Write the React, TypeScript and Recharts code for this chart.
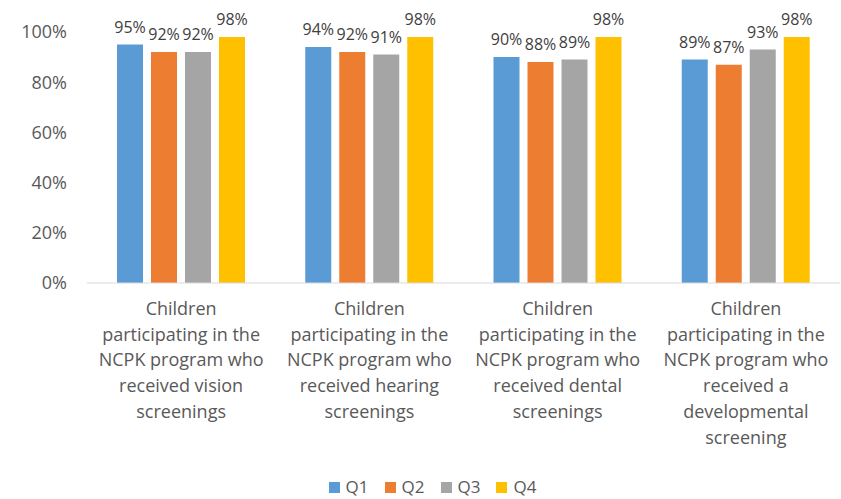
import { BarChart, Bar, XAxis, YAxis, Legend, LabelList } from 'recharts';

const categories = [
  'Children participating in the NCPK program who received vision screenings',
  'Children participating in the NCPK program who received hearing screenings',
  'Children participating in the NCPK program who received dental screenings',
  'Children participating in the NCPK program who received a developmental screening',
];
const q1 = [95, 94, 90, 89];
const q2 = [92, 92, 88, 87];
const q3 = [92, 91, 89, 93];
const q4 = [98, 98, 98, 98];
const yTicks = [0, 20, 40, 60, 80, 100];

const SERIES = [
  { key: 'Q1', color: '#5B9BD5' },
  { key: 'Q2', color: '#ED7D31' },
  { key: 'Q3', color: '#A5A5A5' },
  { key: 'Q4', color: '#FFC000' },
];

const data = categories.map((name, i) => ({
  name,
  Q1: q1[i],
  Q2: q2[i],
  Q3: q3[i],
  Q4: q4[i],
}));

const FONT = '"Open Sans", "Liberation Sans", sans-serif';
const TEXT = '#595959';

function wrap(text: string, max: number) {
  const lines: string[] = [];
  let cur = '';
  for (const w of text.split(' ')) {
    const next = cur ? cur + ' ' + w : w;
    if (next.length > max && cur) {
      lines.push(cur);
      cur = w;
    } else {
      cur = next;
    }
  }
  if (cur) lines.push(cur);
  return lines;
}

function CategoryTick({ x, y, payload }: any) {
  const lines = wrap(payload.value, 20);
  return (
    <text x={x} y={y} textAnchor="middle" fill={TEXT} fontSize={18} fontFamily={FONT}>
      {lines.map((l, i) => (
        <tspan key={i} x={x} dy={i === 0 ? 24 : 25.7}>
          {l}
        </tspan>
      ))}
    </text>
  );
}

function LegendContent() {
  return (
    <div
      style={{
        display: 'flex',
        justifyContent: 'center',
        alignItems: 'center',
        height: 24,
        paddingLeft: 40,
        fontFamily: FONT,
        fontSize: 17,
        color: TEXT,
        lineHeight: '24px',
      }}
    >
      {SERIES.map((s) => (
        <div key={s.key} style={{ display: 'flex', alignItems: 'center', marginRight: 16 }}>
          <span style={{ width: 11, height: 11, background: s.color, marginRight: 6, display: 'inline-block' }} />
          <span>{s.key}</span>
        </div>
      ))}
    </div>
  );
}

export default function App() {
  return (
    <div style={{ position: 'absolute', left: 0, top: 0, background: '#fff' }}>
      <BarChart
        width={841}
        height={499}
        data={data}
        margin={{ top: 32, right: 1, left: 0, bottom: 0 }}
        barSize={26}
        barGap={8}
      >
        <YAxis
          domain={[0, 100]}
          ticks={yTicks}
          tickFormatter={(v: number) => `${v}%`}
          axisLine={false}
          tickLine={false}
          width={87}
          tickMargin={14}
          tick={{ fill: TEXT, fontSize: 18, fontFamily: FONT }}
        />
        <XAxis
          dataKey="name"
          interval={0}
          tickLine={false}
          axisLine={{ stroke: '#D9D9D9' }}
          tick={<CategoryTick />}
          height={192}
        />
        <Legend
          verticalAlign="bottom"
          height={24}
          content={<LegendContent />}
          wrapperStyle={{ left: 0, width: 841, bottom: 0 }}
        />
        {SERIES.map((s) => (
          <Bar key={s.key} dataKey={s.key} fill={s.color} isAnimationActive={false}>
            <LabelList
              dataKey={s.key}
              position="top"
              offset={12}
              formatter={(v: number) => `${v}%`}
              style={{ fill: '#404040', fontSize: 16, fontFamily: FONT }}
            />
          </Bar>
        ))}
      </BarChart>
    </div>
  );
}
